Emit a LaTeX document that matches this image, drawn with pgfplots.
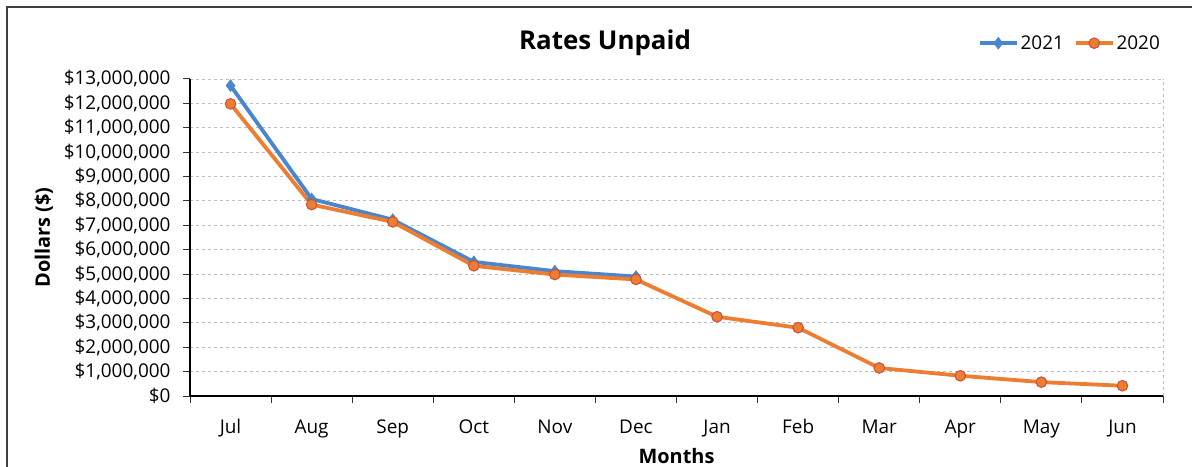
\documentclass[border=0pt]{standalone}
\usepackage{pgfplots}
\pgfplotsset{compat=1.18}
\usepackage{fontspec}
\setmainfont{Open Sans}
\definecolor{blue21}{HTML}{4A86D0}
\definecolor{org20}{HTML}{ED7D31}
\definecolor{org20e}{HTML}{C8503A}
\definecolor{gridg}{HTML}{BFBFBF}
\begin{document}
\begin{tikzpicture}
\path[use as bounding box] (0bp,0bp) rectangle (1192bp,467bp);
\draw[line width=1.2bp,black!75] (7bp,0bp) -- (7bp,460bp) -- (1192bp,460bp);
\begin{axis}[
  at={(190bp,71bp)}, anchor=south west,
  scale only axis, width=973bp, height=317bp,
  xmin=-0.5, xmax=11.5, ymin=0, ymax=13000000,
  xtick={0,...,11},
  xticklabels={Jul,Aug,Sep,Oct,Nov,Dec,Jan,Feb,Mar,Apr,May,Jun},
  minor xtick={-0.5,0.5,...,11.5},
  ytick={0,1000000,...,13000000},
  yticklabels={\$0,\$1{,}000{,}000,\$2{,}000{,}000,\$3{,}000{,}000,\$4{,}000{,}000,\$5{,}000{,}000,\$6{,}000{,}000,\$7{,}000{,}000,\$8{,}000{,}000,\$9{,}000{,}000,\$10{,}000{,}000,\$11{,}000{,}000,\$12{,}000{,}000,\$13{,}000{,}000},
  scaled y ticks=false,
  axis x line*=bottom, axis y line*=left,
  axis line style={line width=1.2bp, black, -},
  major x tick style={draw=none},
  minor x tick style={line width=1bp, black!80},
  ytick style={line width=1bp, black!80},
  tick align=outside,
  major tick length=7bp, minor tick length=7bp,
  ymajorgrids, grid style={gridg, dashed, line width=0.9bp},
  tick label style={font=\fontsize{19}{22}\selectfont, text=black},
  xticklabel style={yshift=-13bp},
  yticklabel style={xshift=-9bp},
  xlabel={\textbf{Months}}, xlabel style={font=\fontsize{20}{23}\selectfont, yshift=-4bp},
  ylabel={\textbf{Dollars (\$)}}, ylabel style={font=\fontsize{20}{23}\selectfont, yshift=4bp},
  clip=false,
  legend style={at={(1,1)}, anchor=south east, yshift=24bp, xshift=2bp, draw=none, fill=none,
    font=\fontsize{19}{22}\selectfont, legend columns=2,
    /tikz/every even column/.append style={column sep=8bp}},
  legend image code/.code={\draw[mark repeat=2,mark phase=2,#1] plot coordinates {(0cm,0cm) (0.65cm,0cm) (1.3cm,0cm)};},
  legend cell align=left,
]
\draw[gridg, dashed, line width=0.9bp] (rel axis cs:1,0) -- (rel axis cs:1,1);
\addplot[blue21, line width=3.8bp, mark=diamond*, mark size=6bp, mark options={fill=blue21, draw=blue21, line width=0.5bp}]
  coordinates {(0,12730000) (1,8080000) (2,7230000) (3,5500000) (4,5120000) (5,4900000)};
\addlegendentry{2021}
\addplot[org20, line width=3.8bp, mark=*, mark size=5.3bp, mark options={fill=org20, draw=org20e, line width=1bp}]
  coordinates {(0,11980000) (1,7850000) (2,7140000) (3,5340000) (4,4980000) (5,4780000) (6,3250000) (7,2800000) (8,1150000) (9,830000) (10,570000) (11,420000)};
\addlegendentry{2020}
\end{axis}
\node[font=\bfseries\fontsize{26}{30}\selectfont] at (605bp,424bp) {Rates Unpaid};
\end{tikzpicture}
\end{document}
